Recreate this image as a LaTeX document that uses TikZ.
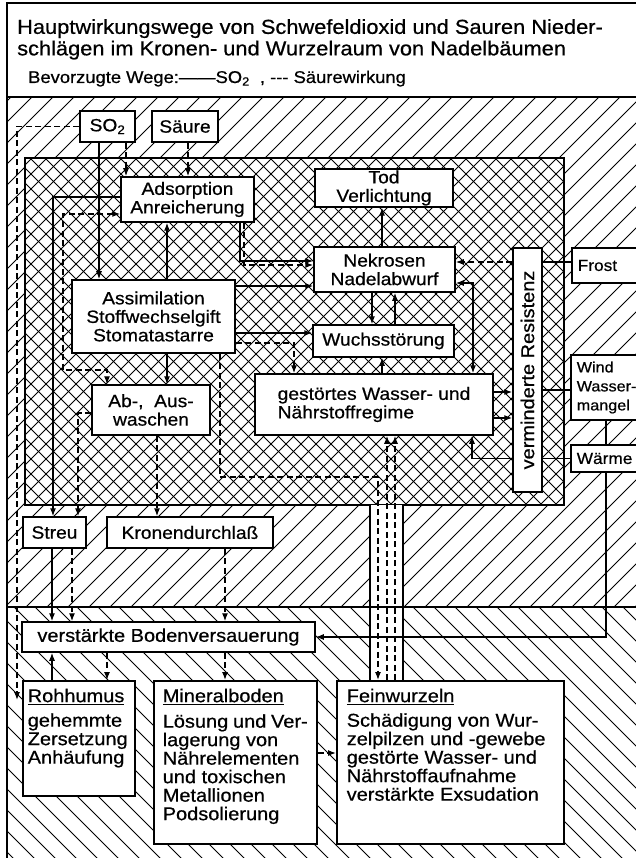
\documentclass[tikz,border=0pt]{standalone}
\usepackage{fontspec}
\setmainfont{Liberation Sans}[FakeStretch=1.08, FakeBold=0.6]
\usetikzlibrary{arrows.meta}

\begin{document}
\begin{tikzpicture}[x=1pt, y=-1pt,
  box/.style={draw, fill=white, line width=1.5pt, align=center, inner sep=0pt,
    font=\fontsize{17.8}{18.5}\selectfont},
  lower/.style={box, anchor=north west, inner xsep=7pt, inner ysep=8pt, align=left,
    font=\fontsize{18.5}{18.5}\selectfont},
  side/.style={box, anchor=west, align=left, inner xsep=6pt, text width=60pt,
    font=\fontsize{16}{19}\selectfont},
  line/.style={line width=1.2pt},
  con/.style={line, -{Latex[length=8pt,width=6pt]}},
  both/.style={line, {Latex[length=8pt,width=6pt]}-{Latex[length=8pt,width=6pt]}},
  acid/.style={dash pattern=on 6pt off 3.5pt},
  hatch/.style={line width=0.9pt}]
  \useasboundingbox (0,0) rectangle (636,858);
  \clip (0,0) rectangle (636,858);

  % above ground: single hatching
  \begin{scope}
    \clip (7,97) rectangle (640,607);
    \foreach \a in {-520,-499,...,660} \draw[hatch] (\a,607) -- ++(520,-520);
  \end{scope}
  % crown: cross hatching
  \fill[white] (25,158) rectangle (564,505);
  \begin{scope}
    \clip (25,158) rectangle (564,505);
    \foreach \a in {-360,-345,...,570} {
      \draw[hatch] (\a,505) -- ++(347,-347);
      \draw[hatch] (\a,158) -- ++(347,347);
    }
  \end{scope}
  \draw[line] (25,158) rectangle (564,505);
  % soil
  \begin{scope}
    \clip (7,607) rectangle (640,860);
    \foreach \a in {-280,-259,...,660} \draw[hatch] (\a,607) -- ++(260,260);
  \end{scope}
  \fill[white] (370,505) rectangle (403,680);   % root channel
  \draw[line] (370,505) -- (370,680) (403,505) -- (403,680);
  \fill[white] (7,3) rectangle (640,97);
  \draw[line width=1.5pt] (7,3) rectangle (700,900);
  \draw[line width=1.5pt] (7,97) -- (640,97) (7,607) -- (640,607);

  % title
  \node[anchor=north west, align=left, inner sep=0pt, font=\fontsize{20.2}{21.5}\selectfont]
    (title) at (17,19) {Hauptwirkungswege von Schwefeldioxid und Sauren Nieder-\\
    schlägen im Kronen- und Wurzelraum von Nadelbäumen};
  \node[anchor=base west, inner sep=0pt, font=\fontsize{17}{18}\selectfont]
    (legend) at (28,83) {Bevorzugte Wege:——SO\textsubscript{2} \ , {-}{-}{-} Säurewirkung};

  % boxes
  \node[box, minimum width=55pt, minimum height=31pt] (so2) at (107.5,126.5) {SO\textsubscript{2}};
  \node[box, minimum width=66pt, minimum height=31pt] (saeure) at (185,126.5) {Säure};
  \node[box, minimum width=133pt, minimum height=45pt] (ads) at (187.5,199.5) {Adsorption\\Anreicherung};
  \node[box, minimum width=138pt, minimum height=38pt] (tod) at (384,188) {Tod\\Verlichtung};
  \node[box, minimum width=141pt, minimum height=45pt] (nek) at (384.5,269.5) {Nekrosen\\Nadelabwurf};
  \node[box, minimum width=163pt, minimum height=73pt] (assim) at (153.5,316.5) {Assimilation\\Stoffwechselgift\\Stomatastarre};
  \node[box, minimum width=141pt, minimum height=32pt] (wuchs) at (383.5,341) {Wuchsstörung};
  \node[box, minimum width=238pt, minimum height=61pt, align=left] (gest) at (374,404.5) {gestörtes Wasser- und\\Nährstoffregime};
  \node[box, minimum width=118pt, minimum height=50pt] (ausw) at (151,410) {Ab-, \ Aus-\\waschen};
  \node[box, rotate=90, minimum width=244pt, minimum height=29pt, font=\fontsize{18.5}{18.5}\selectfont]
    (res) at (527.5,370) {verminderte Resistenz};
  \node[side, minimum height=35pt] (frost) at (571,265.5) {Frost};
  \node[side, minimum height=65pt, font=\fontsize{15}{19}\selectfont] (wind) at (570,387.5) {Wind\\Wasser-\\mangel};
  \node[side, minimum height=27pt] (waerme) at (570,458.5) {Wärme};
  \node[box, minimum width=63pt, minimum height=31pt] (streu) at (54.5,532.5) {Streu};
  \node[box, minimum width=166pt, minimum height=31pt] (krone) at (190,532.5) {Kronendurchlaß};
  \node[box, minimum width=293pt, minimum height=30pt, font=\fontsize{18.5}{18.5}\selectfont]
    (boden) at (168.5,637) {verstärkte Bodenversauerung};
  \node[lower, inner xsep=5pt] (roh) at (22,680) {\parbox[t][99pt][t]{102pt}{\underline{Rohhumus}\\[6pt]
    gehemmte\\Zersetzung\\Anhäufung}};
  \node[lower, inner xsep=9pt] (mineral) at (153,680) {\parbox[t][147pt][t]{145pt}{\underline{Mineralboden}\\[7pt]
    Lösung und Ver-\\lagerung von\\Nährelementen\\und toxischen\\Metallionen\\Podsolierung}};
  \node[lower, inner xsep=10pt] (fein) at (336,680) {\parbox[t][147pt][t]{207pt}{\underline{Feinwurzeln}\\[6pt]
    Schädigung von Wur-\\zelpilzen und -gewebe\\gestörte Wasser- und\\Nährstoffaufnahme\\verstärkte Exsudation}};
  \coordinate (rohin) at (17,700);

  % connectors in the crown
  \draw[con, acid] (so2.west) -- (17,0 |- so2.west) -- (rohin);
  \draw[con] (99,0 |- so2.south) -- (99,0 |- assim.north);
  \draw[con, acid] (126,0 |- so2.south) -- (126,0 |- ads.north);
  \draw[con, acid] (188,0 |- saeure.south) -- (188,0 |- ads.north);
  \draw[con] (ads.west |- 0,197) -- (53,197) -- (53,0 |- streu.north);
  \draw[both, acid] (ads.west |- 0,214) -- (63,214) -- (63,370) -- (107,370) -- (107,0 |- ausw.north);
  \draw[con] (167,0 |- assim.north) -- (167,0 |- ads.south);
  \draw[con] (167,0 |- assim.south) -- (167,0 |- ausw.north);
  \draw[con] (240,0 |- ads.south) -- (240,261) -- (nek.west |- 0,261);
  \draw[con, acid] (244,0 |- ads.south) -- (244,265) -- (nek.west |- 0,265);
  \draw[con] (assim.east |- 0,286) -- (nek.west |- 0,286);
  \draw[con] (assim.east |- 0,333) -- (wuchs.west |- 0,333);
  \draw[con, acid] (assim.east |- 0,343) -- (294,343) -- (294,0 |- gest.north);
  \draw[con] (382,0 |- nek.north) -- (382,0 |- tod.south);
  \draw[con] (372,0 |- nek.south) -- (372,0 |- wuchs.north);
  \draw[con] (395,0 |- wuchs.north) -- (395,0 |- nek.south);
  \draw[con] (382,0 |- gest.north) -- (382,0 |- wuchs.south);
  \draw[both] (nek.east |- 0,283) -- (473,283) -- (473,0 |- gest.north);
  \draw[con, acid] (res.north |- 0,262) -- (nek.east |- 0,262);
  \draw[line] (frost.west |- 0,262) -- (res.south |- 0,262);
  \draw[con] (gest.east |- 0,392) -- (res.north |- 0,392);
  \draw[con] (gest.east |- 0,418) -- (res.north |- 0,418);
  \draw[line] (wind.west |- 0,390) -- (res.south |- 0,390);
  \draw[line] (waerme.west) -- (res.south |- waerme.west);
  \draw[con] (res.north |- waerme.west) -- (472,0 |- waerme.west) -- (472,0 |- gest.south);
  \draw[line] (606,0 |- wind.south) -- (606,0 |- waerme.north);
  \draw[con] (606,0 |- waerme.south) -- (606,637) -- (boden.east);
  \draw[con, acid] (157,0 |- ausw.south) -- (157,0 |- krone.north);
  \draw[con, acid] (ausw.west |- 0,413) -- (78,413) -- (78,0 |- streu.north);
  % down to the roots and back
  \draw[con, acid] (220,0 |- assim.south) -- (220,477) -- (378,477) -- (378,0 |- fein.north);
  \draw[con, acid] (387,0 |- fein.north) -- (387,0 |- gest.south);
  \draw[con, acid] (395,0 |- fein.north) -- (395,0 |- gest.south);
  % soil
  \draw[con] (52,0 |- streu.south) -- (52,0 |- boden.north);
  \draw[con, acid] (72,0 |- streu.south) -- (72,0 |- boden.north);
  \draw[con, acid] (225,0 |- krone.south) -- (225,0 |- boden.north);
  \draw[con, acid] (107,0 |- boden.south) -- (107,0 |- roh.north);
  \draw[con] (52,0 |- roh.north) -- (52,0 |- boden.south);
  \draw[con, acid] (225,0 |- boden.south) -- (225,0 |- mineral.north);
  \draw[con, acid] (mineral.east |- 0,753) -- (fein.west |- 0,753);
\end{tikzpicture}
\end{document}
